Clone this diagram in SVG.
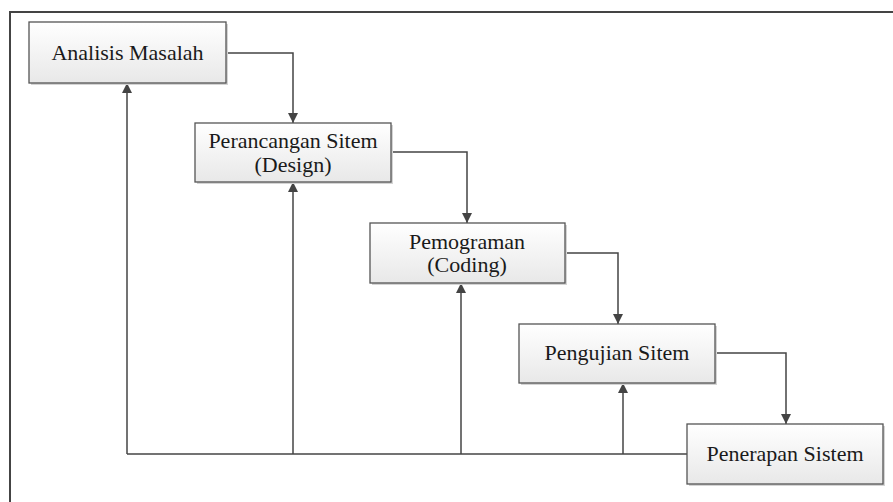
<svg xmlns="http://www.w3.org/2000/svg" width="893" height="502" viewBox="0 0 893 502">
<defs>
<linearGradient id="g" x1="0" y1="0" x2="0" y2="1">
<stop offset="0" stop-color="#ffffff"/>
<stop offset="1" stop-color="#e8e8e8"/>
</linearGradient>
<marker id="ah" viewBox="0 0 10 10" refX="10" refY="5" markerWidth="10" markerHeight="10" markerUnits="userSpaceOnUse" orient="auto">
<path d="M0,0 L10,5 L0,10 z" fill="#444"/>
</marker>
<style>
.box{fill:url(#g);stroke:#555;stroke-width:1.3}
.sh{fill:#d4d4d4}
.t{font-family:"Liberation Serif","Times New Roman","DejaVu Serif",serif;font-size:22px;fill:#1a1a1a;text-anchor:middle}
.c{fill:none;stroke:#444;stroke-width:1.5}
.frame{fill:none;stroke:#444;stroke-width:2}
</style>
</defs>
<rect width="893" height="502" fill="#fff"/>
<path class="frame" d="M10,502 L10,12 L893,12"/>
<g id="connectors">
<path class="c" d="M226,53 H293 V123" marker-end="url(#ah)"/>
<path class="c" d="M391,152 H467 V223" marker-end="url(#ah)"/>
<path class="c" d="M565,253 H618 V324" marker-end="url(#ah)"/>
<path class="c" d="M715,353 H786 V424" marker-end="url(#ah)"/>
<path class="c" d="M687,454 H127"/>
<path class="c" d="M127,454 V83" marker-end="url(#ah)"/>
<path class="c" d="M293,454 V182" marker-end="url(#ah)"/>
<path class="c" d="M461,454 V283" marker-end="url(#ah)"/>
<path class="c" d="M623,454 V383" marker-end="url(#ah)"/>
</g>
<g id="analisis">
<rect class="sh" x="31" y="24" width="197" height="61"/>
<rect class="box" x="29" y="22" width="197" height="61"/>
<text class="t" x="127.5" y="60">Analisis Masalah</text>
</g>
<g id="perancangan">
<rect class="sh" x="197" y="125" width="196" height="59"/>
<rect class="box" x="195" y="123" width="196" height="59"/>
<text class="t" x="293" y="148">Perancangan Sitem</text>
<text class="t" x="293" y="172">(Design)</text>
</g>
<g id="pemograman">
<rect class="sh" x="372" y="225" width="195" height="60"/>
<rect class="box" x="370" y="223" width="195" height="60"/>
<text class="t" x="467" y="249">Pemograman</text>
<text class="t" x="467" y="272">(Coding)</text>
</g>
<g id="pengujian">
<rect class="sh" x="521" y="326" width="196" height="59"/>
<rect class="box" x="519" y="324" width="196" height="59"/>
<text class="t" x="617" y="360">Pengujian Sitem</text>
</g>
<g id="penerapan">
<rect class="sh" x="689" y="426" width="196" height="60"/>
<rect class="box" x="687" y="424" width="196" height="60"/>
<text class="t" x="785" y="461">Penerapan Sistem</text>
</g>
</svg>
